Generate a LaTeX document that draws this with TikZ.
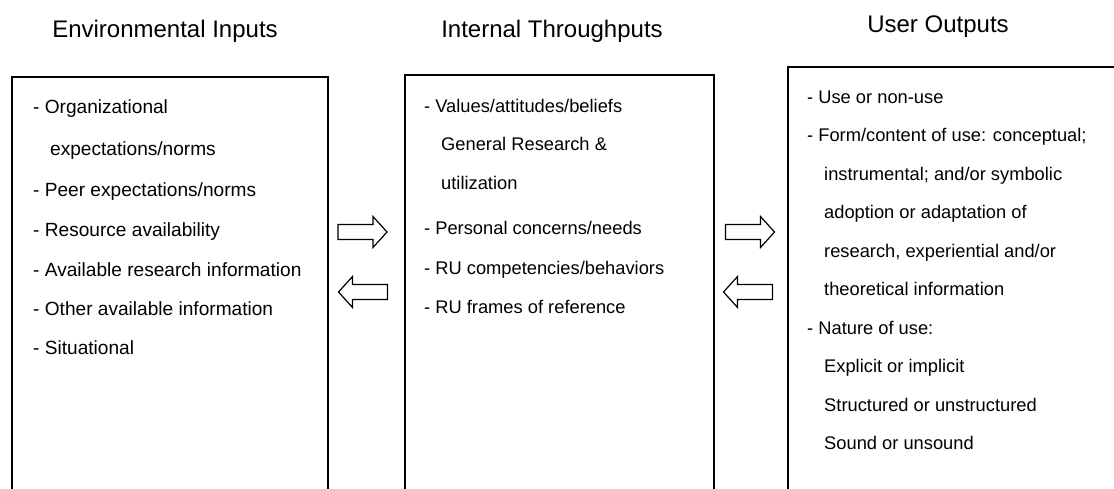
\documentclass[tikz,border=0pt]{standalone}
\usepackage{fontspec}
\setmainfont{Liberation Sans}
\begin{document}
\begin{tikzpicture}[x=1pt,y=-1pt,
  boxline/.style={draw=black,line width=1.5pt},
  blk/.style={draw=black,line width=1.2pt,fill=white,line join=miter},
  ttl/.style={anchor=base,inner sep=0pt,font=\fontsize{24}{28}\selectfont},
  itm/.style={anchor=base west,inner sep=0pt,font=\fontsize{19.1}{23}\selectfont},
  itms/.style={anchor=base west,inner sep=0pt,font=\fontsize{18.3}{22}\selectfont}]
\path[use as bounding box,clip] (0,0) rectangle (1114,488);
\fill[white] (0,0) rectangle (1114,488);
% titles
\node[ttl] (t1) at (165,37) {Environmental Inputs};
\node[ttl] (t2) at (552,37) {Internal Throughputs};
\node[ttl] (t3) at (938,32) {User Outputs};
% boxes (cut off at the bottom)
\node[boxline,inner sep=0pt,minimum width=316pt,minimum height=440pt,anchor=north west] (b1) at (11,76) {};
\node[boxline,inner sep=0pt,minimum width=309pt,minimum height=440pt,anchor=north west] (b2) at (404,74) {};
\node[boxline,inner sep=0pt,minimum width=360pt,minimum height=440pt,anchor=north west] (b3) at (787,66) {};
% block arrows
\tikzset{rblock/.pic={\draw[blk] (-24.5,-7.5) -- (10.5,-7.5) -- (10.5,-15.5) -- (24.5,0) -- (10.5,15.5) -- (10.5,7.5) -- (-24.5,7.5) -- cycle;},
         lblock/.pic={\draw[blk] (24.5,-7.5) -- (-10.5,-7.5) -- (-10.5,-15.5) -- (-24.5,0) -- (-10.5,15.5) -- (-10.5,7.5) -- (24.5,7.5) -- cycle;}}
\coordinate (a1r) at (362.5,232);
\coordinate (a1l) at (363,292);
\coordinate (a2r) at (750,232);
\coordinate (a2l) at (748,292);
\pic at (a1r) {rblock};
\pic at (a1l) {lblock};
\pic at (a2r) {rblock};
\pic at (a2l) {lblock};
% box 1 text
\node[itm] (e1) at (33,113) {- Organizational};
\node[itm] (e2) at (50,155) {expectations/norms};
\node[itm] (e3) at (33,196) {- Peer expectations/norms};
\node[itm] (e4) at (33,236) {- Resource availability};
\node[itm] (e5) at (33,276) {- Available research information};
\node[itm] (e6) at (33,315) {- Other available information};
\node[itm] (e7) at (33,354) {- Situational};
% box 2 text
\node[itms] (i1) at (424,112) {- Values/attitudes/beliefs};
\node[itms] (i2) at (441,150) {General Research \&};
\node[itms] (i3) at (441,189) {utilization};
\node[itms] (i4) at (424,234) {- Personal concerns/needs};
\node[itms] (i5) at (424,274) {- RU competencies/behaviors};
\node[itms] (i6) at (424,313) {- RU frames of reference};
% box 3 text
\node[itms] (u1) at (807,103) {- Use or non-use};
\node[itms] (u2) at (807,141.5) {- Form/content of use: conceptual;};
\node[itms] (u3) at (824,180) {instrumental; and/or symbolic};
\node[itms] (u4) at (824,218.5) {adoption or adaptation of};
\node[itms] (u5) at (824,257) {research, experiential and/or};
\node[itms] (u6) at (824,295.5) {theoretical information};
\node[itms] (u7) at (807,334) {- Nature of use:};
\node[itms] (u8) at (824,372.5) {Explicit or implicit};
\node[itms] (u9) at (824,411) {Structured or unstructured};
\node[itms] (u10) at (824,449.5) {Sound or unsound};
\end{tikzpicture}
\end{document}
